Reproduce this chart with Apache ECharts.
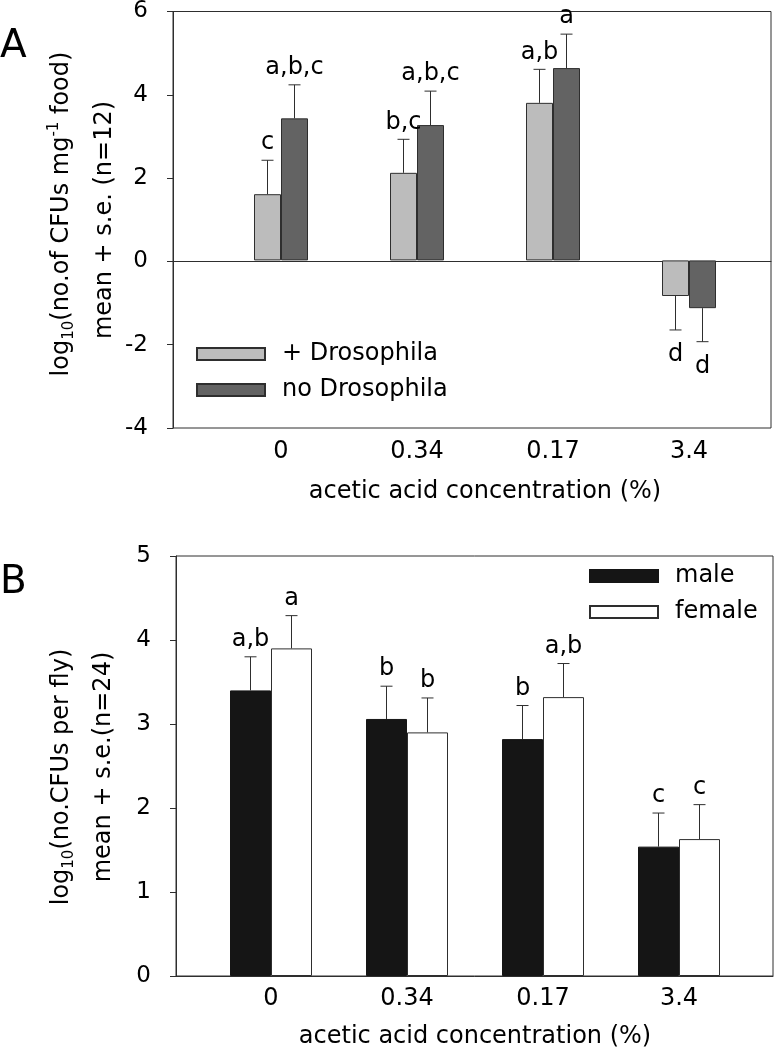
<!DOCTYPE html>
<html>
<head>
<meta charset="utf-8">
<script src="https://cdn.jsdelivr.net/npm/echarts@6/dist/echarts.min.js"></script>
<style>
  html, body { margin: 0; padding: 0; background: #fff; }
  #chart { width: 775px; height: 1050px; }
</style>
</head>
<body>
<div id="chart"></div>
<script>
// ---------- data ----------
const categories = ['0', '0.34', '0.17', '3.4'];

// Panel A: log10(CFUs mg-1 food), mean and s.e.
const plusDroso = [1.58, 2.09, 3.76, -0.85];
const plusDrosoSE = [0.81, 0.80, 0.80, 0.81];
const plusDrosoLetters = ['c', 'b,c', 'a,b', 'd'];
const noDroso = [3.39, 3.23, 4.59, -1.14];
const noDrosoSE = [0.80, 0.81, 0.81, 0.80];
const noDrosoLetters = ['a,b,c', 'a,b,c', 'a', 'd'];

// Panel B: log10(CFUs per fly), mean and s.e.
const male = [3.40, 3.06, 2.82, 1.54];
const maleSE = [0.40, 0.39, 0.40, 0.40];
const maleLetters = ['a,b', 'b', 'b', 'c'];
const female = [3.90, 2.90, 3.32, 1.63];
const femaleSE = [0.39, 0.41, 0.40, 0.41];
const femaleLetters = ['a', 'b', 'a,b', 'c'];

const yRangeA = { min: -4, max: 6, interval: 2 };
const yRangeB = { min: 0, max: 5, interval: 1 };

// ---------- styles ----------
const FONT = 'DejaVu Sans';
const LINE = '#2e2e2e';
const TXT = '#000000';
const FS = 24;

function errorSeries(name, values, ses, letters, xIdx, yIdx, offset) {
  return {
    type: 'custom',
    name: name,
    xAxisIndex: xIdx,
    yAxisIndex: yIdx,
    z: 5,
    data: values.map((v, i) => [i, v, ses[i]]),
    renderItem: function (params, api) {
      const i = api.value(0), m = api.value(1), se = api.value(2);
      const sign = m >= 0 ? 1 : -1;
      const base = api.coord([i, m]);
      const tip = api.coord([i, m + sign * se]);
      const x = base[0] + offset;
      const label = letters[params.dataIndex];
      return {
        type: 'group',
        children: [
          { type: 'line', shape: { x1: x, y1: base[1], x2: x, y2: tip[1] }, style: { stroke: LINE, lineWidth: 1 } },
          { type: 'line', shape: { x1: x - 6, y1: tip[1], x2: x + 6, y2: tip[1] }, style: { stroke: LINE, lineWidth: 1 } },
          {
            type: 'text',
            style: {
              text: label,
              x: x,
              y: sign > 0 ? tip[1] - 5 : tip[1] + 13,
              align: 'center',
              verticalAlign: sign > 0 ? 'bottom' : 'top',
              fontSize: FS,
              fontFamily: FONT,
              fill: TXT
            }
          }
        ]
      };
    }
  };
}

const richTitle = {
  sub: { fontSize: 15, lineHeight: 15, verticalAlign: 'bottom', fontFamily: FONT, fill: TXT },
  sup: { fontSize: 15, lineHeight: 15, verticalAlign: 'top', fontFamily: FONT, fill: TXT }
};

function vText(x, y, text) {
  return {
    type: 'text',
    x: x, y: y,
    rotation: Math.PI / 2,
    style: {
      text: text,
      align: 'center',
      verticalAlign: 'middle',
      fontSize: FS,
      lineHeight: 30,
      fontFamily: FONT,
      fill: TXT,
      rich: richTitle
    }
  };
}

const frameY = (r, g) => ({
  type: 'value',
  gridIndex: g,
  min: r.min, max: r.max, interval: r.interval,
  axisLine: { show: true, lineStyle: { color: LINE, width: 1 } },
  axisTick: { show: true, inside: false, length: 6, lineStyle: { color: LINE } },
  axisLabel: { fontSize: 23, fontFamily: FONT, color: TXT, margin: 25 },
  splitLine: { show: false }
});
const frameX = (g) => ({
  type: 'value', gridIndex: g, min: 0, max: 1,
  axisLine: { show: true, onZero: true, lineStyle: { color: LINE, width: 1 } },
  axisTick: { show: false }, axisLabel: { show: false }, splitLine: { show: false }
});
const dataX = (g, margin, nameGap) => ({
  type: 'category', gridIndex: g, data: categories,
  axisLine: { show: false, onZero: false }, axisTick: { show: false },
  axisLabel: { fontSize: FS, fontFamily: FONT, color: TXT, margin: margin },
  name: 'acetic acid concentration (%)',
  nameLocation: 'middle', nameGap: nameGap,
  nameTextStyle: { fontSize: FS, fontFamily: FONT, color: TXT }
});
const dataY = (r, g) => ({ type: 'value', gridIndex: g, min: r.min, max: r.max, interval: r.interval, show: false });

const option = {
  animation: false,
  backgroundColor: '#ffffff',
  grid: [
    { left: 173, top: 9, width: 598, height: 419, show: true, borderColor: LINE, borderWidth: 1 },
    { left: 213, top: 9, width: 544, height: 419 },
    { left: 176, top: 556, width: 597, height: 420, show: true, borderColor: LINE, borderWidth: 1 },
    { left: 203, top: 556, width: 544, height: 420 }
  ],
  xAxis: [frameX(0), dataX(1, 12, 52), frameX(2), dataX(3, 11, 49)],
  yAxis: [frameY(yRangeA, 0), dataY(yRangeA, 1), frameY(yRangeB, 2), dataY(yRangeB, 3)],
  legend: [
    {
      data: ['+ Drosophila', 'no Drosophila'],
      orient: 'vertical', left: 196, top: 342, padding: 0,
      itemWidth: 68, itemHeight: 12, itemGap: 12, icon: 'rect',
      textStyle: { fontSize: FS, fontFamily: FONT, color: TXT, padding: [0, 0, 0, 12] }
    },
    {
      data: ['male', 'female'],
      orient: 'vertical', left: 589, top: 564, padding: 0,
      itemWidth: 68, itemHeight: 12, itemGap: 12, icon: 'rect',
      textStyle: { fontSize: FS, fontFamily: FONT, color: TXT, padding: [0, 0, 0, 12] }
    }
  ],
  series: [
    { type: 'bar', name: '+ Drosophila', xAxisIndex: 1, yAxisIndex: 1, data: plusDroso, barWidth: 27, barGap: '0%',
      itemStyle: { color: '#bcbcbc', borderColor: LINE, borderWidth: 1 } },
    { type: 'bar', name: 'no Drosophila', xAxisIndex: 1, yAxisIndex: 1, data: noDroso, barWidth: 27, barGap: '0%',
      itemStyle: { color: '#636363', borderColor: LINE, borderWidth: 1 } },
    errorSeries('errPlus', plusDroso, plusDrosoSE, plusDrosoLetters, 1, 1, -13.5),
    errorSeries('errNo', noDroso, noDrosoSE, noDrosoLetters, 1, 1, 13.5),
    { type: 'bar', name: 'male', xAxisIndex: 3, yAxisIndex: 3, data: male, barWidth: 41, barGap: '0%',
      itemStyle: { color: '#151515', borderColor: '#151515', borderWidth: 1 } },
    { type: 'bar', name: 'female', xAxisIndex: 3, yAxisIndex: 3, data: female, barWidth: 41, barGap: '0%',
      itemStyle: { color: '#ffffff', borderColor: LINE, borderWidth: 1 } },
    errorSeries('errMale', male, maleSE, maleLetters, 3, 3, -20.5),
    errorSeries('errFemale', female, femaleSE, femaleLetters, 3, 3, 20.5)
  ],
  graphic: [
    { type: 'text', left: 0, top: 27, style: { text: 'A', fontSize: 39, fontFamily: FONT, fill: TXT } },
    { type: 'text', left: 0, top: 563, style: { text: 'B', fontSize: 39, fontFamily: FONT, fill: TXT } },
    vText(62, 214, 'log{sub|10}(no.of CFUs mg{sup|-1} food)'),
    vText(105, 220, 'mean + s.e. (n=12)'),
    vText(62, 777, 'log{sub|10}(no.CFUs per fly)'),
    vText(104, 767, 'mean + s.e.(n=24)')
  ]
};

const chart = echarts.init(document.getElementById('chart'), null, { renderer: 'canvas' });
chart.setOption(option);
</script>
</body>
</html>
